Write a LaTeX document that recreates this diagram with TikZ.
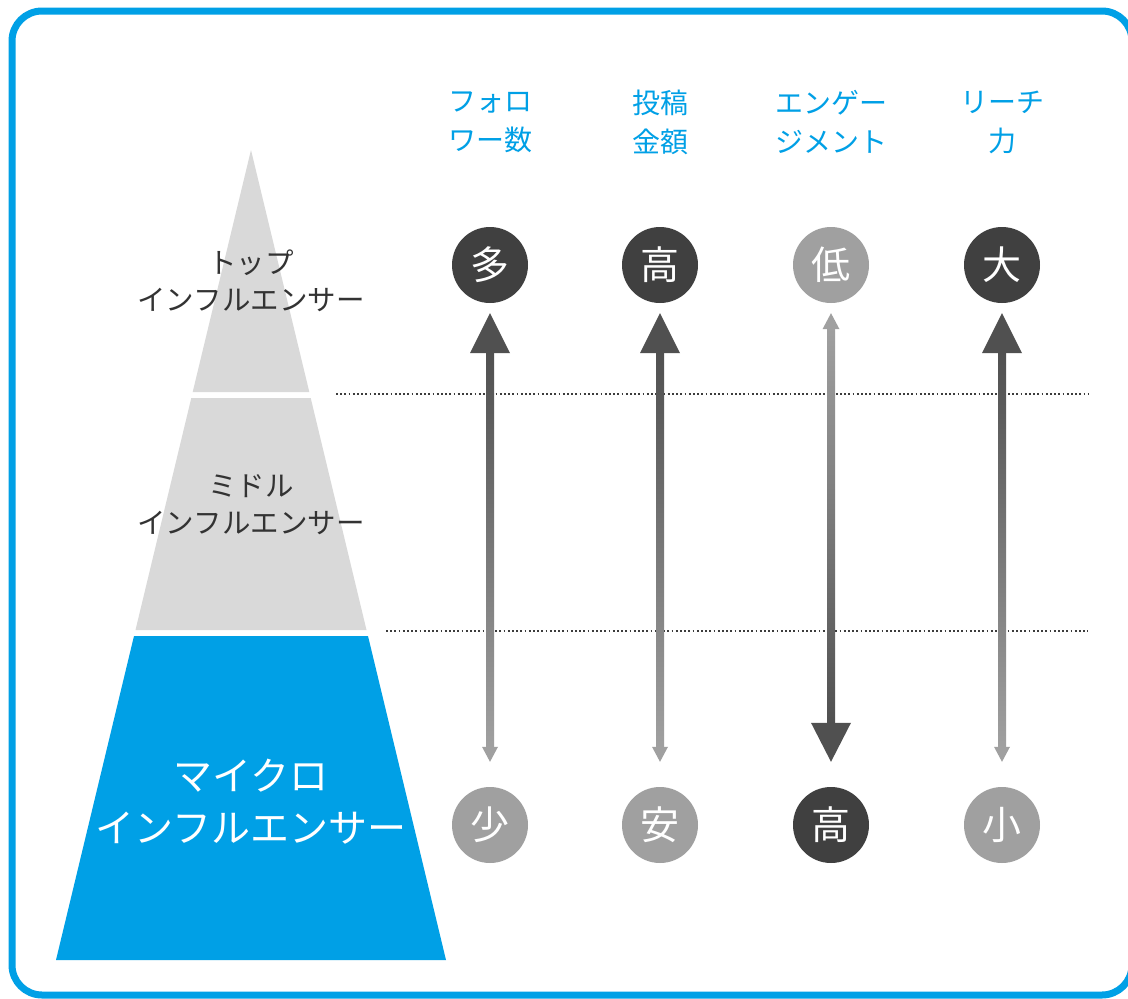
\documentclass[tikz,border=0pt]{standalone}
\usepackage{fontspec}
\newfontfamily\jp{Noto Sans CJK JP}
\usetikzlibrary{calc}
\definecolor{brandblue}{RGB}{0,160,230}
\definecolor{pyrgray}{RGB}{217,217,217}
\definecolor{darkc}{RGB}{64,64,64}
\definecolor{lightc}{RGB}{160,160,160}
\definecolor{arrdark}{RGB}{80,80,80}
\definecolor{labtext}{RGB}{51,51,51}
\definecolor{dotc}{RGB}{60,60,60}
\begin{document}
\begin{tikzpicture}[x=1pt,y=-1pt,
  circ/.style={circle,minimum size=76pt,inner sep=0pt,text=white,font=\jp\fontsize{39}{39}\selectfont},
  hdr/.style={align=center,text=brandblue,font=\jp\fontsize{28}{39}\selectfont,inner sep=0pt},
  lab/.style={align=center,text=labtext,font=\jp\fontsize{28.5}{37}\selectfont,inner sep=0pt},
  dotline/.style={draw=dotc,line width=1.7pt,dash pattern=on 1.7pt off 2.5pt}]
\useasboundingbox (0,0) rectangle (1128,999);
\fill[white] (0,0) rectangle (1128,999);
% frame
\draw[brandblue,line width=7pt,rounded corners=30pt] (12,11) rectangle (1132,995);
% pyramid
\fill[pyrgray] (251,150) -- (309.3,392) -- (192.7,392) -- cycle;
\fill[pyrgray] (191.3,398) -- (310.7,398) -- (366.5,630) -- (135.5,630) -- cycle;
\fill[brandblue] (134,636) -- (368,636) -- (446,960) -- (56,960) -- cycle;
% dotted lines
\draw[dotline] (336,394) -- (1088,394);
\draw[dotline] (386,631) -- (1088,631);
% pyramid labels
\node[lab] (ltop) at (251,281) {トップ\\インフルエンサー};
\node[lab] (lmid) at (251,505) {ミドル\\インフルエンサー};
\node[lab,text=white,font=\jp\fontsize{39}{52}\selectfont] (lmic) at (251,802) {マイクロ\\インフルエンサー};
% headers
\node[hdr] (h1) at (490,122) {フォロ\\ワー数};
\node[hdr] (h2) at (660,122) {投稿\\金額};
\node[hdr] (h3) at (831,122) {エンゲー\\ジメント};
\node[hdr] (h4) at (1002,122) {リーチ\\力};
% circles
\node[circ,fill=darkc] (t1) at (490,265) {多};
\node[circ,fill=darkc] (t2) at (660,265) {高};
\node[circ,fill=lightc] (t3) at (831,265) {低};
\node[circ,fill=darkc] (t4) at (1002,265) {大};
\node[circ,fill=lightc] (b1) at (490,825) {少};
\node[circ,fill=lightc] (b2) at (660,825) {安};
\node[circ,fill=darkc] (b3) at (831,825) {高};
\node[circ,fill=lightc] (b4) at (1002,825) {小};
% arrows pointing up (big head at top)
\foreach \a/\b in {t1/b1,t2/b2,t4/b4}{
  \fill[arrdark] ($(\a.south)+(0,10)$) -- ++(20,40) -- ++(-40,0) -- cycle;
  \shade[top color=arrdark,bottom color=lightc] ($(\a.south)+(-4,49)$) rectangle ($(\b.north)+(4,-39)$);
  \fill[lightc] ($(\b.north)+(0,-25)$) -- ++(8,-15) -- ++(-16,0) -- cycle;
}
% arrow pointing down (big head at bottom)
\fill[lightc] ($(t3.south)+(0,10)$) -- ++(8.5,16) -- ++(-17,0) -- cycle;
\shade[top color=lightc,bottom color=arrdark] ($(t3.south)+(-4,25)$) rectangle ($(b3.north)+(4,-63)$);
\fill[arrdark] ($(b3.north)+(0,-25)$) -- ++(20,-39) -- ++(-40,0) -- cycle;
\end{tikzpicture}
\end{document}
